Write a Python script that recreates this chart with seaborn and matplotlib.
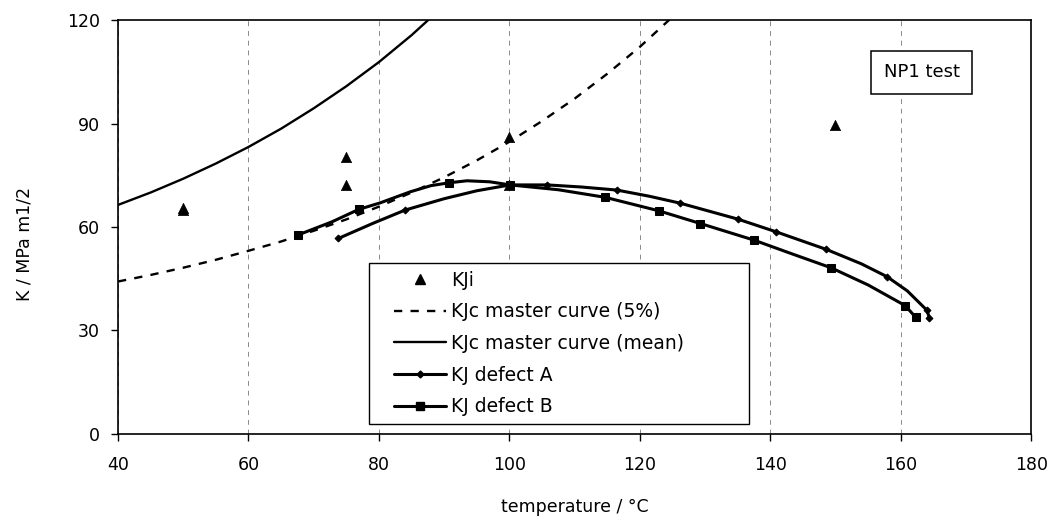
import matplotlib
matplotlib.use("Agg")
import matplotlib.pyplot as plt
import seaborn as sns
from matplotlib.lines import Line2D
from matplotlib.legend_handler import HandlerLine2D

# ---------------- data ----------------
x_ticks = [40, 60, 80, 100, 120, 140, 160, 180]
y_ticks = [0, 30, 60, 90, 120]

kji_temp = [50, 50, 75, 75, 100, 100, 150]
kji_k = [65.5, 64.8, 80.2, 72.2, 86.2, 72.2, 89.6]

mc5_temp = [40, 45, 50, 55, 60, 65, 70, 75, 80, 85, 90, 95, 100, 105, 110, 115, 120, 125]
mc5_k = [44.2, 46.1, 48.2, 50.5, 53.1, 55.8, 58.9, 62.2, 65.9, 70.0, 74.4, 79.3,
         84.7, 90.7, 97.2, 104.4, 112.2, 120.9]

mcm_temp = [40, 45, 50, 55, 60, 65, 70, 75, 80, 85, 90]
mcm_k = [66.4, 70.0, 74.0, 78.4, 83.2, 88.5, 94.4, 100.8, 107.8, 115.6, 124.2]

defa_temp = [73.8, 79.0, 84.0, 90.0, 95.0, 100.1, 105.8, 111.0, 116.5, 121.5, 126.2,
             135.0, 140.9, 148.6, 154.0, 157.9, 161.0, 164.0, 164.4]
defa_k = [56.7, 61.0, 64.9, 68.2, 70.5, 72.2, 72.2, 71.6, 70.7, 68.9, 66.9,
          62.3, 58.6, 53.5, 49.3, 45.6, 41.5, 35.9, 33.7]
defa_marked = [0, 2, 6, 8, 10, 11, 12, 13, 15, 17, 18]

defb_temp = [67.6, 72.8, 76.9, 80.2, 84.8, 88.0, 90.7, 93.5, 97.0, 100.1, 107.5,
             114.7, 122.9, 129.3, 137.5, 143.5, 149.3, 155.0, 160.7, 162.3]
defb_k = [57.7, 61.5, 65.1, 67.0, 70.2, 72.0, 72.8, 73.4, 73.1, 72.2, 70.8,
          68.6, 64.7, 61.0, 56.2, 52.1, 48.2, 43.2, 37.2, 33.8]
defb_marked = [0, 2, 6, 9, 11, 12, 13, 14, 16, 18, 19]

labels = ["KJi", "KJc master curve (5%)", "KJc master curve (mean)",
          "KJ defect A", "KJ defect B"]

# ---------------- styling ----------------
sns.set_theme(style="ticks")
plt.rcParams["font.family"] = ["DejaVu Sans"]
plt.rcParams["text.color"] = "black"

fig = plt.figure(figsize=(10.52, 5.21), dpi=100)
ax = fig.add_axes([0.1122, 0.167, 0.868, 0.7946])

dash5 = (0, (3.5, 3.5))

sns.lineplot(x=mc5_temp, y=mc5_k, ax=ax, color="black", lw=1.7, linestyle=dash5,
             estimator=None, sort=False)
sns.lineplot(x=mcm_temp, y=mcm_k, ax=ax, color="black", lw=1.7,
             estimator=None, sort=False)
sns.lineplot(x=defa_temp, y=defa_k, ax=ax, color="black", lw=2.2,
             marker="D", markersize=3.5, markeredgecolor="black",
             markerfacecolor="black", markevery=defa_marked,
             estimator=None, sort=False)
sns.lineplot(x=defb_temp, y=defb_k, ax=ax, color="black", lw=2.2,
             marker="s", markersize=5.5, markeredgecolor="black",
             markerfacecolor="black", markevery=defb_marked,
             estimator=None, sort=False)
sns.scatterplot(x=kji_temp, y=kji_k, ax=ax, marker="^", s=55, color="black",
                edgecolor="black", linewidth=0.5, zorder=5)

ax.set_xlim(40, 180)
ax.set_ylim(0, 120)
ax.set_xticks(x_ticks)
ax.set_yticks(y_ticks)
ax.xaxis.grid(True, linestyle=(0, (5, 5)), color="#8a8a8a", lw=0.7)
ax.yaxis.grid(False)
for s in ax.spines.values():
    s.set_visible(True)
    s.set_color("black")
    s.set_linewidth(1.2)
ax.tick_params(axis="both", direction="out", length=5, width=1.0,
               colors="black", labelsize=12.5)
ax.tick_params(axis="x", pad=11)
ax.tick_params(axis="y", pad=8)

ax.set_xlabel("temperature / °C", fontsize=12.5, labelpad=17, color="black")
ax.set_ylabel("K / MPa m1/2", fontsize=12.5, color="black")
ax.yaxis.set_label_coords(-0.093, 0.46)

# legend
handles = [
    Line2D([], [], ls="none", marker="^", color="black", markersize=7),
    Line2D([], [], color="black", lw=1.7, ls=dash5),
    Line2D([], [], color="black", lw=1.7),
    Line2D([], [], color="black", lw=2.2, marker="D", markersize=3.5),
    Line2D([], [], color="black", lw=2.2, marker="s", markersize=5.5),
]
leg = ax.legend(handles, labels, loc="upper left",
                bbox_to_anchor=(0.275, 0.029, 0.416, 0.384), mode="expand",
                handler_map={Line2D: HandlerLine2D(xpad=0.93)},
                frameon=True, fancybox=False, edgecolor="black", framealpha=1,
                borderpad=0.42, labelspacing=0.67, handlelength=3.7,
                handletextpad=0.25, fontsize=13.5, borderaxespad=0,
                labelcolor="black")
leg.get_frame().set_linewidth(1.0)

ax.text(0.880, 0.874, "NP1 test", transform=ax.transAxes, ha="center",
        va="center", fontsize=13, color="black",
        bbox=dict(boxstyle="square,pad=0.7", fc="white", ec="black", lw=1.1))

fig.savefig("out.png", dpi=100)
